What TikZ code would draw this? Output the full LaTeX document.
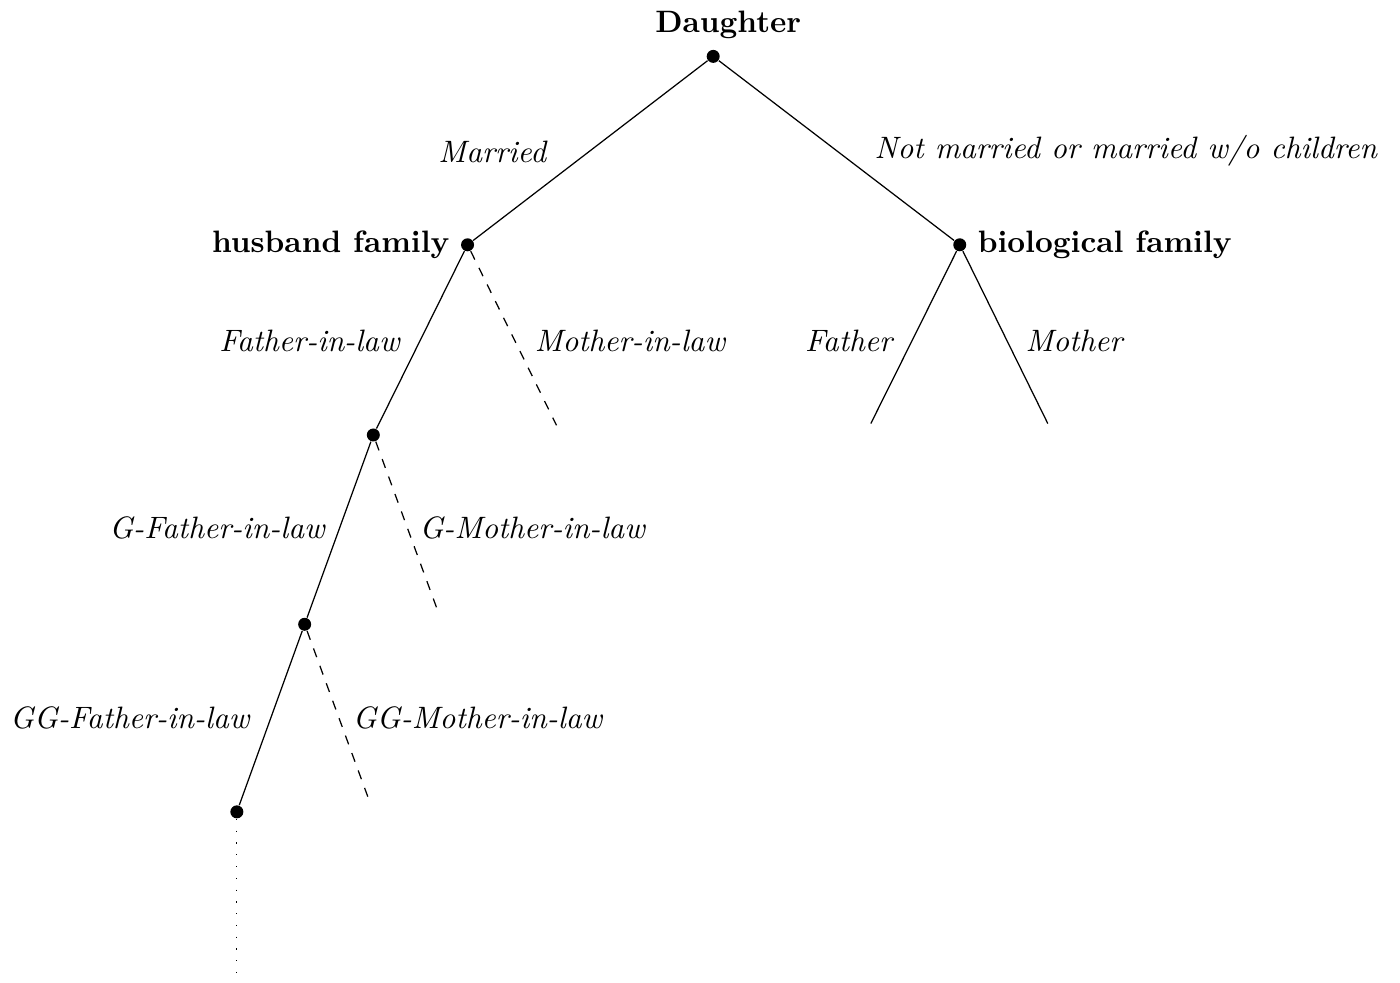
\documentclass[tikz,border=0pt]{standalone}
\usepackage{amsmath, amssymb}
\usepackage{tikz}
\usetikzlibrary{positioning}

\begin{document}
\begin{tikzpicture}[dot/.style={circle, fill=black, inner sep=0pt, minimum size=4.2pt}]
    \useasboundingbox (0,0) rectangle (15.90,-11.16);
    % Root
    \node[dot] (Daughter) at (8.10,-0.64) {};
    \node (Daughter-label) at (8.27,-0.28) {\textbf{Daughter}};
    % Families
    \node[dot] (Husband) at (5.31,-2.78) {};
    \node[left=0pt of Husband] (Husband-label) {\textbf{husband family}};
    \node[dot] (Biological) at (10.90,-2.78) {};
    \node[right=0pt of Biological] (Biological-label) {\textbf{biological family}};
    % In-law chain
    \foreach \i/\x/\y in {1/4.24/-4.94, 2/3.46/-7.09, 3/2.69/-9.22} {
        \node[dot] (InLaw-\i) at (\x,\y) {};
    }
    % Open ends
    \foreach \i/\x/\y in {1/6.32/-4.83, 2/4.98/-6.96, 3/4.20/-9.11} {
        \coordinate (MotherEnd-\i) at (\x,\y);
    }
    \coordinate (FatherEnd) at (9.89,-4.81);
    \coordinate (MotherEnd) at (11.90,-4.81);
    \coordinate (LineEnd) at (2.69,-11.16);
    % Edges
    \draw (Daughter) -- (Husband);
    \draw (Daughter) -- (Biological);
    \draw (Husband) -- (InLaw-1);
    \draw (InLaw-1) -- (InLaw-2);
    \draw (InLaw-2) -- (InLaw-3);
    \draw[dashed] (Husband) -- (MotherEnd-1);
    \draw[dashed] (InLaw-1) -- (MotherEnd-2);
    \draw[dashed] (InLaw-2) -- (MotherEnd-3);
    \draw (Biological) -- (FatherEnd);
    \draw (Biological) -- (MotherEnd);
    \draw[dash pattern=on 0.4pt off 3.4pt] (InLaw-3) -- (LineEnd);
    % Edge labels
    \node (Married) at (5.60,-1.73) {\textit{Married}};
    \node (NotMarried) at (12.79,-1.71) {\textit{Not married or married w/o children}};
    \node (Father) at (9.65,-3.87) {\textit{Father}};
    \node (Mother) at (12.21,-3.87) {\textit{Mother}};
    \foreach \pre/\i/\xf/\xm/\y in {/1/3.52/7.16/-3.87, G-/2/2.47/6.05/-6.00, GG-/3/1.48/5.43/-8.15} {
        \node (FatherInLaw-\i) at (\xf,\y) {\textit{\pre Father-in-law}};
        \node (MotherInLaw-\i) at (\xm,\y) {\textit{\pre Mother-in-law}};
    }
\end{tikzpicture}
\end{document}
